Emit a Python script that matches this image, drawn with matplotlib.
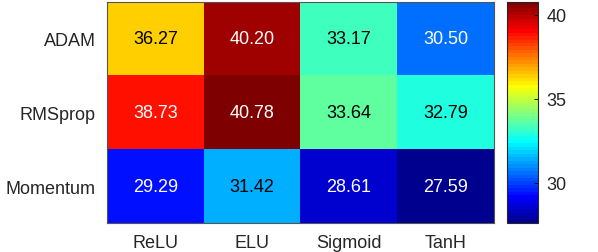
import numpy as np
import matplotlib
matplotlib.use("Agg")
import matplotlib.pyplot as plt
from matplotlib.colors import ListedColormap

rows = ["ADAM", "RMSprop", "Momentum"]
cols = ["ReLU", "ELU", "Sigmoid", "TanH"]
adam = [36.27, 40.20, 33.17, 30.50]
rmsprop = [38.73, 40.78, 33.64, 32.79]
momentum = [29.29, 31.42, 28.61, 27.59]
cbar_ticks = [30, 35, 40]

data = np.array([adam, rmsprop, momentum])

# MATLAB-style jet(64)
def matlab_jet(n=64):
    m = int(np.ceil(n / 4))
    u = np.concatenate([np.arange(1, m + 1) / m, np.ones(m - 1), np.arange(m, 0, -1) / m])
    g = int(np.ceil(m / 2)) - (1 if n % 4 == 1 else 0) + np.arange(1, len(u) + 1)
    r = g + m
    b = g - m
    J = np.zeros((n, 3))
    J[r[r <= n] - 1, 0] = u[r <= n]
    J[g[g <= n] - 1, 1] = u[g <= n]
    J[b[b >= 1] - 1, 2] = u[b >= 1]
    return ListedColormap(J)

cmap = matlab_jet(64)
plt.rcParams['font.family'] = ['Liberation Sans', 'DejaVu Sans']

fig = plt.figure(figsize=(5.98, 2.53), dpi=100)
ax = fig.add_axes([107 / 598, 1 - 224 / 253, (494 - 107) / 598, (224 - 2.5) / 253])
cax = fig.add_axes([507 / 598, 1 - 224 / 253, (538 - 507) / 598, (224 - 2.5) / 253])

vmin, vmax = data.min(), data.max()
im = ax.imshow(data, cmap=cmap, vmin=vmin, vmax=vmax, aspect='auto')
ax.set_xticks(range(len(cols)))
ax.set_xticklabels(cols)
ax.set_yticks(range(len(rows)))
ax.set_yticklabels(rows)
ax.tick_params(length=0, labelsize=13, labelcolor='#262626', pad=8)
for s in ax.spines.values():
    s.set_color('#555555')
    s.set_linewidth(0.8)

for i in range(data.shape[0]):
    for j in range(data.shape[1]):
        v = data[i, j]
        c = cmap((v - vmin) / (vmax - vmin))
        lum = 0.299 * c[0] + 0.587 * c[1] + 0.114 * c[2]
        tc = 'black' if lum > 0.5 else 'white'
        ax.text(j, i, f"{v:.2f}", ha='center', va='center', fontsize=13, color=tc)

cb = fig.colorbar(im, cax=cax)
cb.set_ticks(cbar_ticks)
cb.ax.tick_params(labelsize=13, labelcolor='#262626', direction='in', length=3, width=0.6, right=True, pad=6)
cb.outline.set_linewidth(0.8)
cb.outline.set_edgecolor('#262626')

fig.savefig("out.png", dpi=100)
